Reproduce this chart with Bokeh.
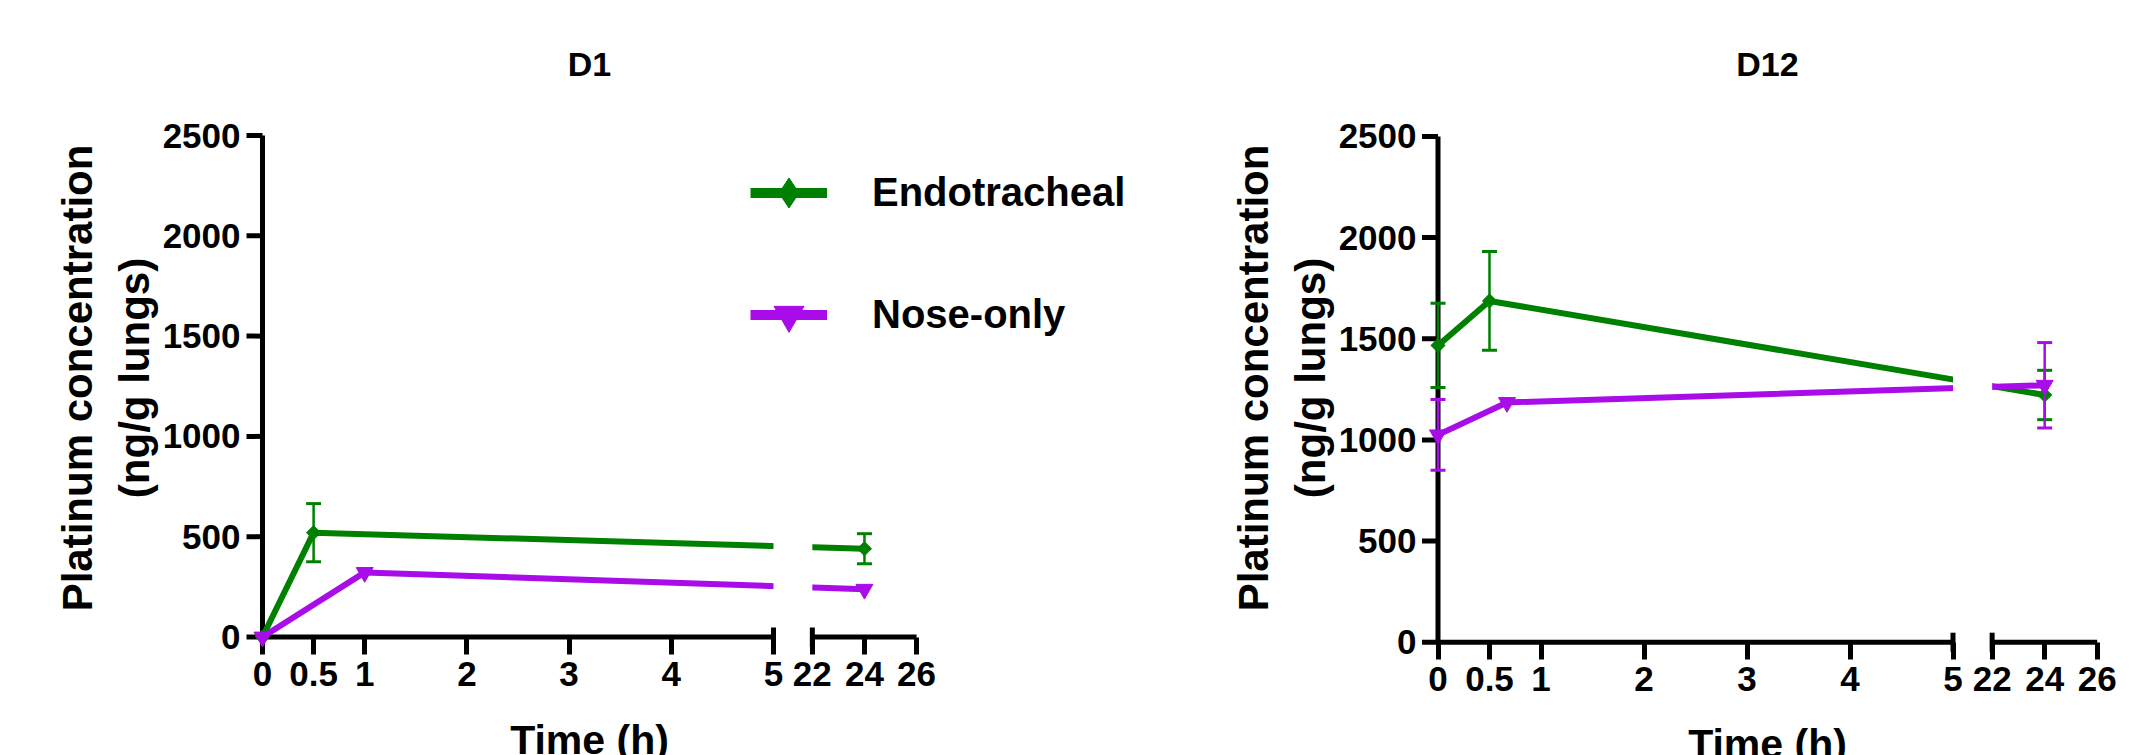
import math
from bokeh.plotting import figure
from bokeh.models import Range1d, FixedTicker, Legend, LegendItem, Label
from bokeh.layouts import row
from bokeh.embed import file_html
from bokeh.resources import INLINE

FONT = "Liberation Sans"
GREEN = "#008000"
PURPLE = "#A80CE8"

# ---------------- data ----------------
panel_titles = ["D1", "D12"]
series_names = ["Endotracheal", "Nose-only"]
x_tick_values = [0, 0.5, 1, 2, 3, 4, 5, 22, 24, 26]
x_tick_labels = ["0", "0.5", "1", "2", "3", "4", "5", "22", "24", "26"]
y_tick_values = [0, 500, 1000, 1500, 2000, 2500]

d1_endo_time = [0, 0.5, 24]
d1_endo_mean = [0, 520, 440]
d1_endo_sd = [0, 145, 75]
d1_nose_time = [0, 1, 24]
d1_nose_mean = [0, 322, 238]
d1_nose_sd = [0, 0, 0]

d12_endo_time = [0, 0.5, 24]
d12_endo_mean = [1467, 1687, 1222]
d12_endo_sd = [208, 244, 122]
d12_nose_time = [0, 0.67, 24]
d12_nose_mean = [1025, 1185, 1270]
d12_nose_sd = [175, 0, 211]

# broken time axis: 0-5 h, then 22-26 h compressed
BREAK_START, BREAK_END = 5, 22
GAP = 0.38
SEG2 = 0.255


def bx(t):
    return float(t) if t <= BREAK_START else BREAK_START + GAP + (t - BREAK_END) * SEG2


def bold(obj, prefix, size):
    setattr(obj, prefix + "_font", FONT)
    setattr(obj, prefix + "_font_style", "bold")
    setattr(obj, prefix + "_font_size", size)
    setattr(obj, prefix + "_color", "black")


PAGE_TOP = 0
TICK_FONT = "35px"


def make_panel(title, series, width, height, page_left, yaxis_px, x_ppu, zero_py, y_ppu,
               title_cx, title_cy, xlab_cy, ylab_standoff, legend=None):
    bl = int(round(yaxis_px - 20 - page_left))
    fw = width - bl
    x0 = -(yaxis_px - (page_left + bl)) / x_ppu
    x1 = x0 + fw / x_ppu
    y0 = -(PAGE_TOP + height - zero_py) / y_ppu
    y1 = y0 + height / y_ppu
    p = figure(width=width, height=height, x_range=Range1d(x0, x1), y_range=Range1d(y0, y1),
               output_backend="svg", toolbar_location=None, title=None,
               min_border_left=bl, min_border_right=0, min_border_top=0, min_border_bottom=0)
    p.outline_line_color = None
    p.grid.visible = False

    # x axis drawn at y = 0 (inside the frame)
    xa = p.xaxis[0]
    xa.fixed_location = 0
    xa.ticker = FixedTicker(ticks=[bx(t) for t in x_tick_values])
    xa.major_label_overrides = {bx(t): lab for t, lab in zip(x_tick_values, x_tick_labels)}
    xa.axis_line_alpha = 0
    xa.major_tick_out = 17
    xa.major_tick_in = 0
    xa.minor_tick_out = 0
    xa.minor_tick_in = 0
    xa.major_tick_line_width = 5
    xa.major_label_standoff = 8
    bold(xa, "major_label_text", TICK_FONT)
    xa.level = "underlay"

    # y axis: labels in the left panel, line and ticks drawn at x = 0
    ya = p.yaxis[0]
    ya.ticker = FixedTicker(ticks=y_tick_values)
    ya.bounds = (0, 2620)
    ya.axis_line_alpha = 0
    ya.major_tick_out = 0
    ya.major_tick_in = 0
    ya.minor_tick_out = 0
    ya.minor_tick_in = 0
    ya.major_tick_line_alpha = 0
    ya.major_label_standoff = 2
    bold(ya, "major_label_text", TICK_FONT)
    ya.axis_label = "Platinum concentration\n(ng/g lungs)"
    ya.axis_label_standoff = ylab_standoff
    bold(ya, "axis_label_text", "42px")

    p.segment(x0=[0], y0=[0], x1=[0], y1=[y_tick_values[-1]], line_width=5, line_color="black")
    p.segment(x0=[0] * len(y_tick_values), y0=y_tick_values,
              x1=[-16 / x_ppu] * len(y_tick_values), y1=y_tick_values,
              line_width=5, line_color="black")
    # broken x-axis line with end caps
    p.segment(x0=[0, bx(BREAK_END)], y0=[0, 0], x1=[BREAK_START, bx(x_tick_values[-1])], y1=[0, 0],
              line_width=5, line_color="black")
    p.scatter(x=[BREAK_START, bx(BREAK_END)], y=[0, 0], marker="dash", angle=math.pi / 2,
              size=19, line_width=5, line_color="black")

    # title and x axis title
    p.add_layout(Label(x=(title_cx - yaxis_px) / x_ppu, y=(zero_py - title_cy) / y_ppu, text=title,
                       text_align="center", text_baseline="middle", text_font=FONT,
                       text_font_style="bold", text_font_size="34px", text_color="black"))
    p.add_layout(Label(x=(title_cx - yaxis_px) / x_ppu, y=(zero_py - xlab_cy) / y_ppu, text="Time (h)",
                       text_align="center", text_baseline="middle", text_font=FONT,
                       text_font_style="bold", text_font_size="41px", text_color="black"))

    colors = [GREEN, PURPLE]
    markers = [("square", 10, math.pi / 4), ("inverted_triangle", 17, 0)]
    for (t, m, sd), c in zip(series, colors):
        p.line([bx(v) for v in t], m, line_width=6, line_color=c)
    # gap in the data lines at the axis break
    p.quad(left=[BREAK_START], right=[bx(BREAK_END)], bottom=[60], top=[y_tick_values[-1] + 200],
           fill_color="white", line_color=None)
    for (t, m, sd), c, (mk, sz, ang) in zip(series, colors, markers):
        xs = [bx(v) for v in t]
        idx = [i for i, s in enumerate(sd) if s > 0]
        ex = [xs[i] for i in idx]
        lo = [m[i] - sd[i] for i in idx]
        hi = [m[i] + sd[i] for i in idx]
        if idx:
            p.segment(x0=ex, y0=lo, x1=ex, y1=hi, line_width=2.5, line_color=c)
            p.scatter(x=ex + ex, y=lo + hi, marker="dash", size=15, line_width=3, line_color=c)
        p.scatter(xs, m, marker=mk, size=sz, angle=ang, fill_color=c, line_color=c)

    if legend is not None:
        glyph_left_px, first_cy = legend
        item_h, spacing = 75, 47
        leg_h = 2 * item_h + spacing
        vx = glyph_left_px - (page_left + bl)
        vy = (PAGE_TOP + height) - (first_cy - item_h / 2 + leg_h)
        items = []
        for name, c, mk in zip(series_names, colors, ["diamond", "inverted_triangle"]):
            lr = p.line([float("nan")], [float("nan")], line_width=10, line_color=c)
            mr = p.scatter([float("nan")], [float("nan")], marker=mk, fill_color=c, line_color=c)
            items.append(LegendItem(label=name, renderers=[lr, mr]))
        leg = Legend(items=items, location=(vx, vy), glyph_width=77, glyph_height=item_h,
                     label_height=item_h, spacing=spacing, label_standoff=45, padding=0, margin=0,
                     border_line_alpha=0, background_fill_alpha=0)
        bold(leg, "label_text", "40px")
        p.add_layout(leg)
    return p


p1 = make_panel(panel_titles[0],
                [(d1_endo_time, d1_endo_mean, d1_endo_sd), (d1_nose_time, d1_nose_mean, d1_nose_sd)],
                width=1140, height=755, page_left=0, yaxis_px=262, x_ppu=102.2,
                zero_py=636.5, y_ppu=0.2006, title_cx=589, title_cy=63, xlab_cy=739,
                ylab_standoff=2, legend=(750, 192))
p2 = make_panel(panel_titles[1],
                [(d12_endo_time, d12_endo_mean, d12_endo_sd), (d12_nose_time, d12_nose_mean, d12_nose_sd)],
                width=993, height=755, page_left=1140, yaxis_px=1437.5, x_ppu=103,
                zero_py=641.7, y_ppu=0.2023, title_cx=1767, title_cy=63, xlab_cy=743,
                ylab_standoff=2)

layout = row(p1, p2)
open("out.html", "w").write(file_html(layout, INLINE))
